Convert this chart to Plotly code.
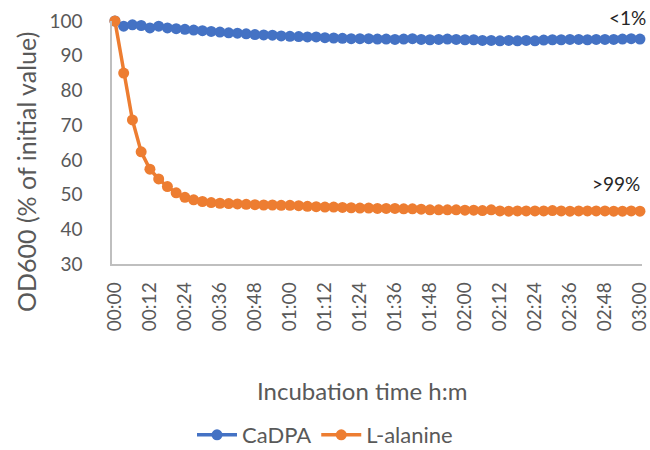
import plotly.graph_objects as go

minutes = [0, 3, 6, 9, 12, 15, 18, 21, 24, 27, 30, 33, 36, 39, 42, 45, 48, 51, 54, 57,
           60, 63, 66, 69, 72, 75, 78, 81, 84, 87, 90, 93, 96, 99, 102, 105, 108, 111, 114, 117,
           120, 123, 126, 129, 132, 135, 138, 141, 144, 147, 150, 153, 156, 159, 162, 165, 168, 171, 174, 177, 180]

cadpa = [100, 98.5, 98.9, 98.7, 98.0, 98.5, 98.0, 97.8, 97.6, 97.4, 97.2, 97.0, 96.8, 96.6, 96.5, 96.3,
         96.1, 96.0, 95.9, 95.7, 95.6, 95.5, 95.4, 95.4, 95.2, 95.1, 95.0, 94.9, 94.9, 94.9, 94.8, 94.8,
         94.7, 94.8, 94.9, 94.7, 94.6, 94.7, 94.8, 94.7, 94.6, 94.6, 94.4, 94.4, 94.3, 94.4, 94.3, 94.4,
         94.3, 94.5, 94.6, 94.6, 94.7, 94.7, 94.6, 94.7, 94.7, 94.7, 94.8, 94.9, 94.8]

lalanine = [100, 85, 71.5, 62.3, 57.3, 54.5, 52.3, 50.5, 49.2, 48.5, 48.0, 47.7, 47.5, 47.4, 47.3, 47.2,
            47.1, 47.0, 47.0, 46.9, 46.9, 46.8, 46.6, 46.5, 46.4, 46.4, 46.3, 46.2, 46.1, 46.1, 46.0, 46.0,
            46.0, 45.9, 45.9, 45.8, 45.6, 45.6, 45.6, 45.6, 45.5, 45.5, 45.4, 45.6, 45.3, 45.2, 45.3, 45.3,
            45.3, 45.3, 45.4, 45.3, 45.2, 45.3, 45.3, 45.3, 45.3, 45.2, 45.2, 45.3, 45.2]

tick_vals = [0, 12, 24, 36, 48, 60, 72, 84, 96, 108, 120, 132, 144, 156, 168, 180]
tick_text = ["00:00", "00:12", "00:24", "00:36", "00:48", "01:00", "01:12", "01:24",
             "01:36", "01:48", "02:00", "02:12", "02:24", "02:36", "02:48", "03:00"]

FONT = "Lato"
GRAY = "#595959"

fig = go.Figure()
fig.add_trace(go.Scatter(x=minutes, y=cadpa, name="CaDPA", mode="lines+markers",
                         line=dict(color="#4472C4", width=3.5),
                         marker=dict(size=11, color="#4472C4"), cliponaxis=False))
fig.add_trace(go.Scatter(x=minutes, y=lalanine, name="L-alanine", mode="lines+markers",
                         line=dict(color="#ED7D31", width=3.5),
                         marker=dict(size=11, color="#ED7D31"), cliponaxis=False))

fig.update_layout(
    width=650, height=450,
    margin=dict(l=112, r=8, t=21, b=186, autoexpand=False),
    paper_bgcolor="white", plot_bgcolor="white",
    font=dict(family=FONT, color=GRAY, size=19),
    showlegend=True,
    legend=dict(orientation="h", x=0.5, xref="container", xanchor="center",
                y=15 / 450, yref="container", yanchor="middle",
                font=dict(size=22, color=GRAY), traceorder="normal", itemwidth=40),
    xaxis=dict(range=[-1, 180.7], tickvals=tick_vals, ticktext=tick_text, tickangle=-90,
               showgrid=False, zeroline=False, showline=True, linecolor="#BFBFBF", linewidth=1.5,
               ticks="", ticklabelstandoff=9, automargin=False, ticklabeloverflow="allow",
               tickfont=dict(size=19, color=GRAY)),
    yaxis=dict(range=[30, 100], dtick=10, showgrid=False, zeroline=False, showline=True,
               linecolor="#BFBFBF", linewidth=1.5, ticks="", ticklabelstandoff=24, automargin=False,
               tickfont=dict(size=19, color=GRAY)),
    annotations=[
        dict(text="Incubation time h:m", xref="paper", yref="paper", x=(362 - 112) / 530,
             y=-(390 - 264) / 243, xanchor="center", yanchor="middle", showarrow=False,
             font=dict(size=24, color=GRAY)),
        dict(text="OD600 (% of initial value)", xref="paper", yref="paper", x=-(112 - 26) / 530,
             y=-(172 - 264) / 243, xanchor="center", yanchor="middle", textangle=-90,
             showarrow=False, font=dict(size=25, color=GRAY)),
        dict(text="&lt;1%", xref="paper", yref="paper", x=1, y=(264 - 17) / 243,
             xanchor="right", yanchor="middle",
             xshift=6, showarrow=False, font=dict(size=19, color="#262626")),
        dict(text="&gt;99%", xref="paper", yref="paper", x=1, y=(264 - 183) / 243,
             xanchor="right", yanchor="middle",
             xshift=0, showarrow=False, font=dict(size=19, color="#262626")),
    ],
)

fig.write_html("out.html", config={"displayModeBar": False},
               post_script="document.body.style.margin='0';document.body.style.padding='0';")
